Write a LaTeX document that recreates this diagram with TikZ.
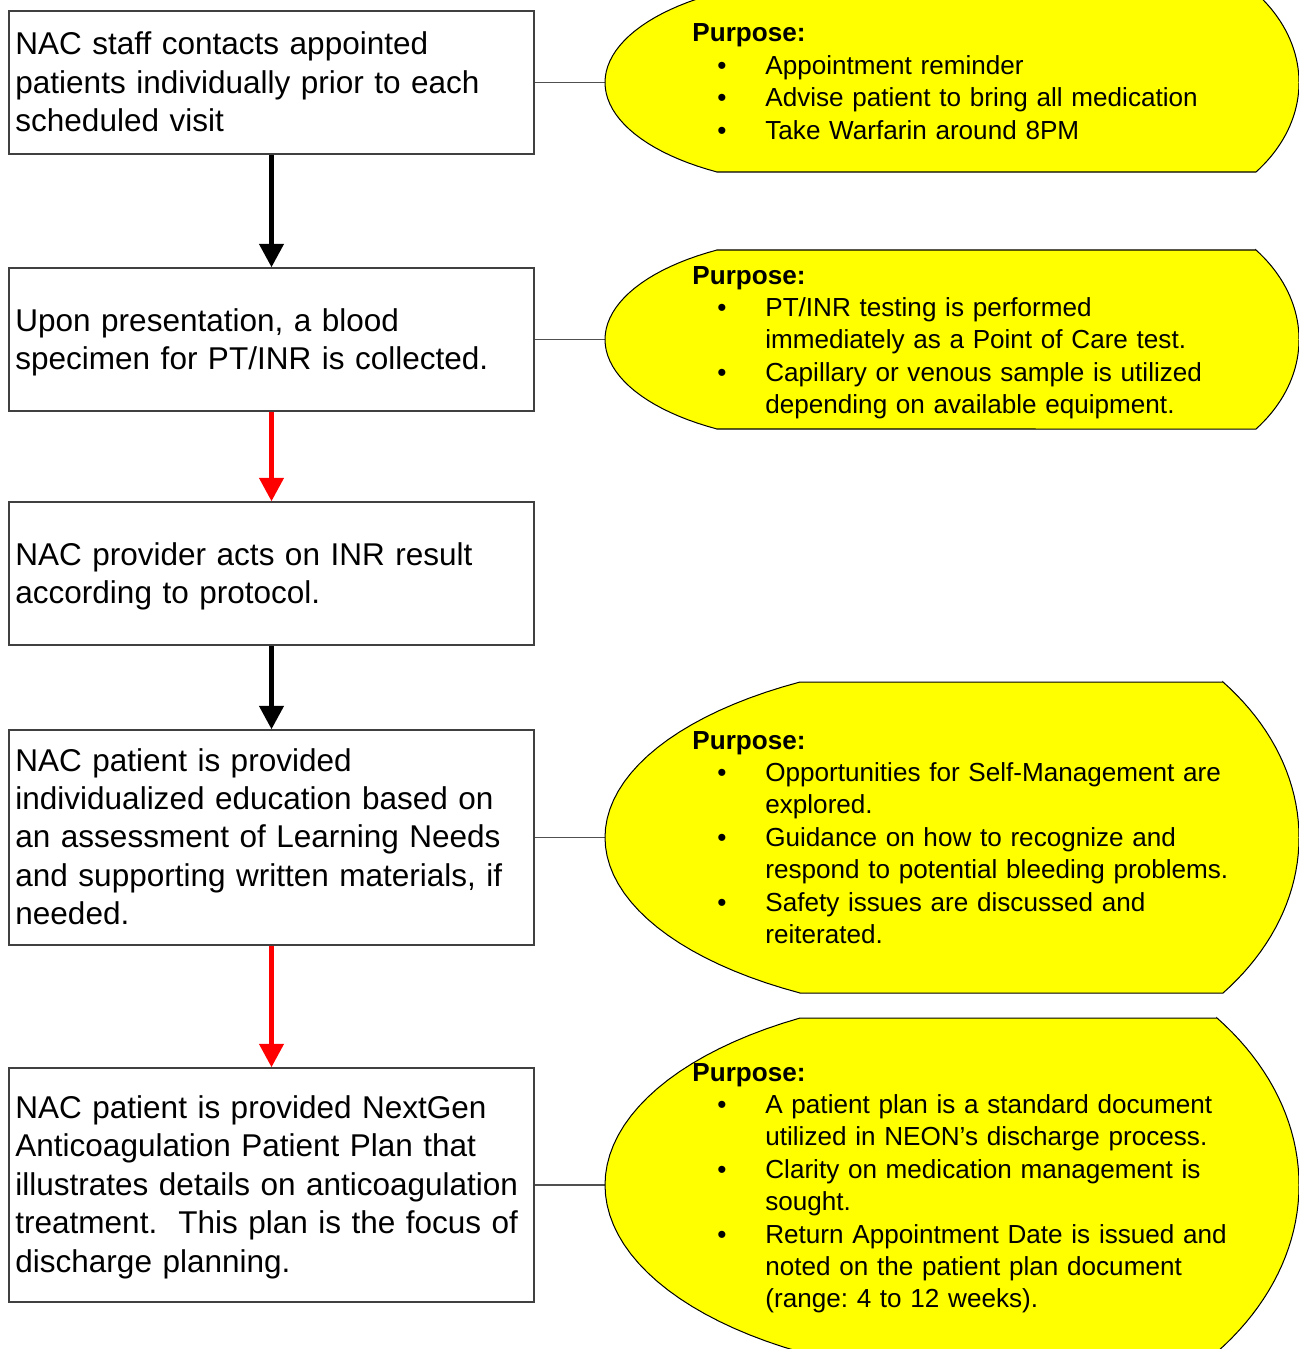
\documentclass[tikz,border=0pt]{standalone}
\usepackage{fontspec}
\setmainfont{Liberation Sans}
\usetikzlibrary{arrows.meta}
\definecolor{shapeyellow}{HTML}{FFFF00}
\definecolor{boxline}{HTML}{404040}
\definecolor{linkgray}{HTML}{505050}
\definecolor{arrred}{HTML}{FF0000}
\newcommand{\bitem}{\hspace*{11.1pt}\makebox[21.3pt][l]{\textbullet}}
\newcommand{\bcont}{\hspace*{32.4pt}}
% #1 leftmost x, #2 left chord x, #3 right chord x, #4 rightmost x, #5 top y, #6 bottom y
\newcommand{\dispshape}[6]{%
  \pgfmathsetmacro{\dsmid}{(#5+#6)/2}%
  \pgfmathsetmacro{\dsh}{(#6-#5)/2}%
  \pgfmathsetmacro{\dsryR}{\dsh/sin(40)}%
  \pgfmathsetmacro{\dsrxR}{(#4-#3)/(1-cos(40))}%
  \pgfmathsetmacro{\dsryL}{\dsh/sin(60)}%
  \pgfmathsetmacro{\dsrxL}{(#2-#1)/(1-cos(60))}%
  \path[purpshape] (#2,#5) -- (#3,#5)
     -- plot[domain=-40:40, samples=41] ({#4-\dsrxR+\dsrxR*cos(\x)}, {\dsmid+\dsryR*sin(\x)})
     -- (#2,#6)
     -- plot[domain=60:-60, samples=41] ({#1+\dsrxL-\dsrxL*cos(\x)}, {\dsmid+\dsryL*sin(\x)})
     -- cycle;
}
\frenchspacing
\begin{document}
\begin{tikzpicture}[x=0.4444pt, y=-0.4444pt,
  flowbox/.style={draw=boxline, line width=0.5pt, rectangle, minimum width=233.3pt, inner sep=0pt, fill=white},
  boxtext/.style={anchor=base west, inner sep=0pt, text width=232pt, align=left, font=\fontsize{14}{17.1}\selectfont},
  purptext/.style={anchor=base west, inner sep=0pt, text width=262pt, align=left, font=\fontsize{11.6}{14.4}\selectfont},
  purpshape/.style={fill=shapeyellow, draw=black, line width=0.45pt},
  link/.style={draw=linkgray, line width=0.5pt},
  downarrow/.style={line width=2.4pt, -{Triangle[width=10.5pt,length=10.5pt]}},
]
\path[use as bounding box, clip] (0,0) rectangle (1299,1349);

% flow boxes
\node[flowbox, minimum height=63.55pt] (b1) at (271.5,82.5) {};
\node[flowbox, minimum height=63.55pt] (b2) at (271.5,339.5) {};
\node[flowbox, minimum height=63.55pt] (b3) at (271.5,573.5) {};
\node[flowbox, minimum height=95.55pt] (b4) at (271.5,837.5) {};
\node[flowbox, minimum height=104pt] (b5) at (271.5,1185) {};

% connector ends on purpose shapes
\coordinate (s1) at (605,82.5);
\coordinate (s2) at (605,339.5);
\coordinate (s3) at (605,837.5);
\coordinate (s4) at (605,1185);

\draw[link] (b1.east) -- (s1);
\draw[link] (b2.east) -- (s2);
\draw[link] (b4.east) -- (s3);
\draw[link] (b5.east) -- (s4);

% purpose shapes
\dispshape{605}{717}{1256}{1299}{-7}{172}
\dispshape{605}{717}{1256}{1299}{250}{429}
\dispshape{605}{800}{1223}{1299}{682}{993}
\dispshape{605}{800}{1217}{1299}{1018}{1352}

% arrows
\draw[downarrow, draw=black, fill=black] (b1.south) -- (b2.north);
\draw[downarrow, draw=arrred, fill=arrred] (b2.south) -- (b3.north);
\draw[downarrow, draw=black, fill=black] (b3.south) -- (b4.north);
\draw[downarrow, draw=arrred, fill=arrred] (b4.south) -- (b5.north);

% box texts
\node[boxtext] (t1) at (15,55) {NAC staff contacts appointed\\patients individually prior to each\\scheduled visit};
\node[boxtext] (t2) at (15,331) {Upon presentation, a blood\\specimen for PT/INR is collected.};
\node[boxtext] (t3) at (15,565) {NAC provider acts on INR result\\according to protocol.};
\node[boxtext] (t4) at (15,771) {NAC patient is provided\\individualized education based on\\an assessment of Learning Needs\\and supporting written materials, if\\needed.};
\node[boxtext] (t5) at (15,1118.5) {NAC patient is provided NextGen\\Anticoagulation Patient Plan that\\illustrates details on anticoagulation\\treatment.\ \ This plan is the focus of\\discharge planning.};

% purpose texts
\node[purptext] (p1) at (692,42) {\textbf{Purpose:}\\
\bitem Appointment reminder\\
\bitem Advise patient to bring all medication\\
\bitem Take Warfarin around 8PM};
\node[purptext] (p2) at (692,284) {\textbf{Purpose:}\\
\bitem PT/INR testing is performed\\
\bcont immediately as a Point of Care test.\\
\bitem Capillary or venous sample is utilized\\
\bcont depending on available equipment.};
\node[purptext] (p3) at (692,749) {\textbf{Purpose:}\\
\bitem Opportunities for Self-Management are\\
\bcont explored.\\
\bitem Guidance on how to recognize and\\
\bcont respond to potential bleeding problems.\\
\bitem Safety issues are discussed and\\
\bcont reiterated.};
\node[purptext] (p4) at (692,1081) {\textbf{Purpose:}\\
\bitem A patient plan is a standard document\\
\bcont utilized in NEON’s discharge process.\\
\bitem Clarity on medication management is\\
\bcont sought.\\
\bitem Return Appointment Date is issued and\\
\bcont noted on the patient plan document\\
\bcont (range: 4 to 12 weeks).};
\end{tikzpicture}
\end{document}
